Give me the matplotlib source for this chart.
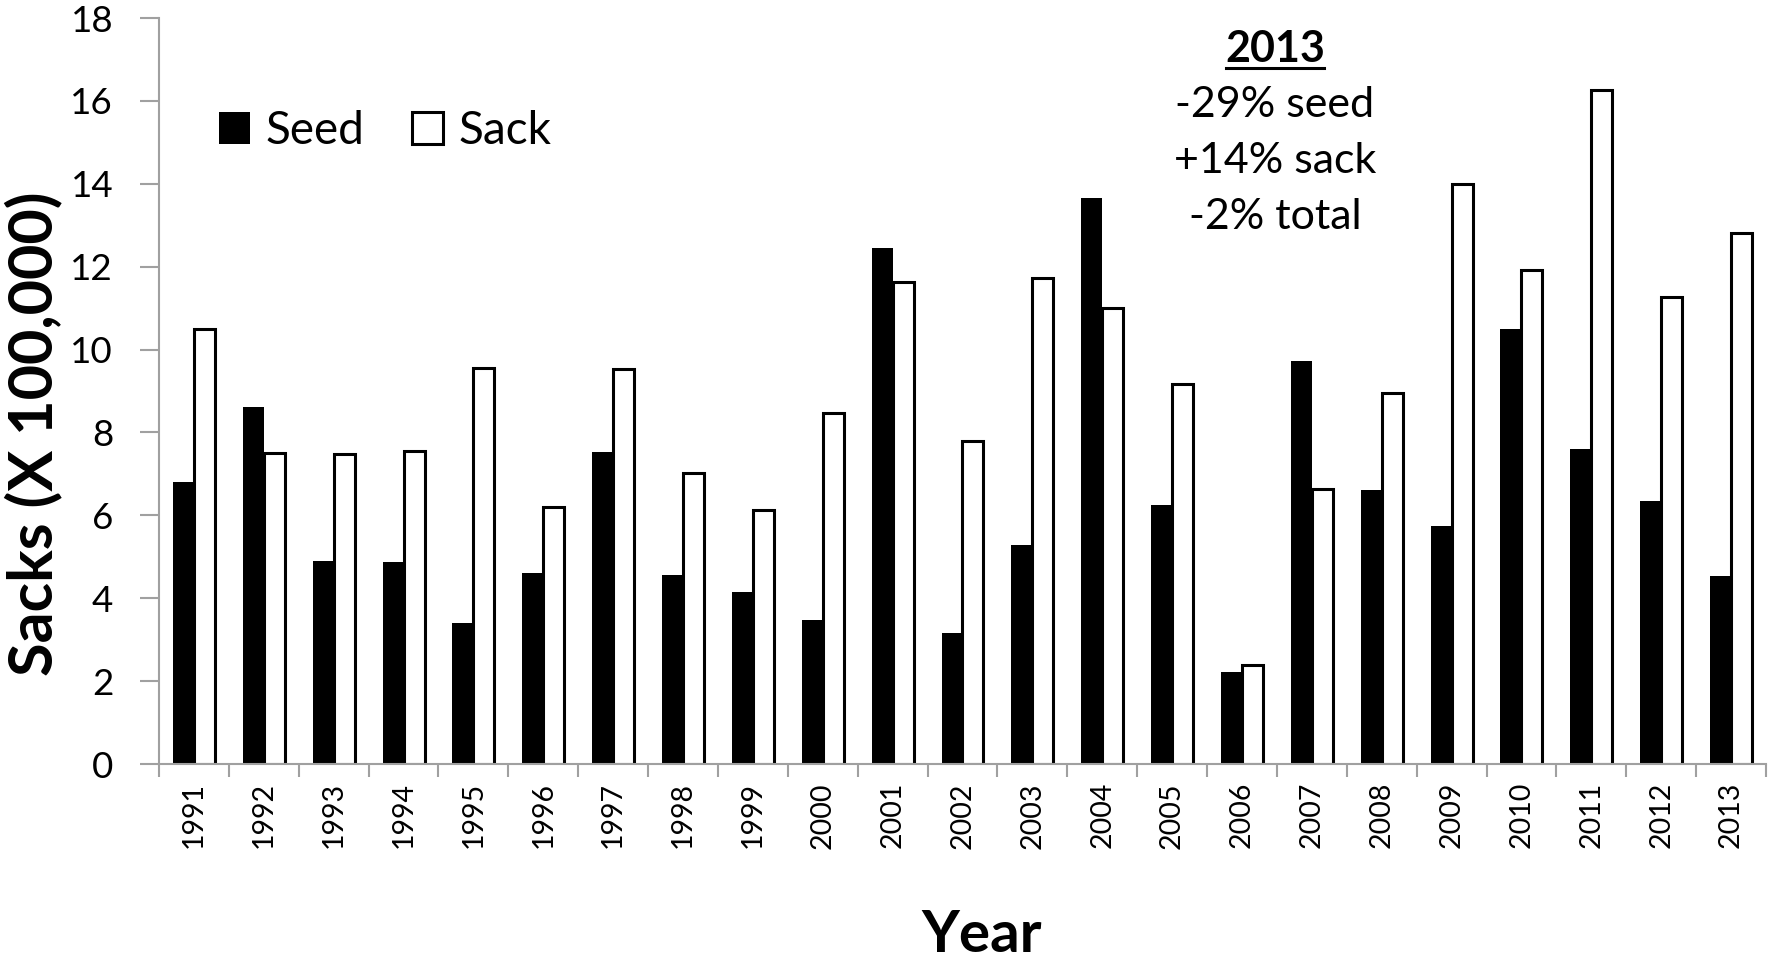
import numpy as np
import matplotlib
matplotlib.use("Agg")
import matplotlib.pyplot as plt
from matplotlib.lines import Line2D

plt.rcParams['font.family'] = ['Lato', 'DejaVu Sans']

# data (sacks x 100,000)
years = ['1991', '1992', '1993', '1994', '1995', '1996', '1997', '1998',
         '1999', '2000', '2001', '2002', '2003', '2004', '2005', '2006',
         '2007', '2008', '2009', '2010', '2011', '2012', '2013']
seed = [6.81, 8.61, 4.90, 4.87, 3.40, 4.62, 7.53, 4.55, 4.16, 3.47, 12.45, 3.17,
        5.29, 13.66, 6.24, 2.22, 9.73, 6.60, 5.74, 10.49, 7.60, 6.35, 4.54]
sack = [10.50, 7.50, 7.48, 7.56, 9.56, 6.19, 9.53, 7.02, 6.13, 8.47, 11.64, 7.80,
        11.72, 11.00, 9.16, 2.38, 6.63, 8.95, 13.99, 11.92, 16.26, 11.26, 12.81]
y_ticks = [0, 2, 4, 6, 8, 10, 12, 14, 16, 18]
note_lines = ['-29% seed', '+14% sack', '-2% total']

W, H = 1777, 960
fig = plt.figure(figsize=(W / 100, H / 100), dpi=100)
ax = fig.add_axes([159 / W, 1 - 764 / H, (1766 - 159) / W, (764 - 18) / H])

x = np.arange(len(years))
bw = 0.3
b_seed = ax.bar(x - bw / 2, seed, bw, color='black', edgecolor='black', linewidth=0, label='Seed', zorder=2)
b_sack = ax.bar(x + bw / 2, sack, bw, color='white', edgecolor='black', linewidth=2.2, label='Sack', zorder=2)

ax.set_xlim(-0.5, len(years) - 0.5)
ax.set_ylim(0, 18)
ax.set_yticks(y_ticks)
ax.tick_params(axis='y', labelsize=26.5, length=14, width=1.5, color='#a0a0a0', pad=19)

# tick marks between categories, labels at the centres
ax.set_xticks(np.arange(-0.5, len(years)), labels=[])
ax.set_xticks(x, labels=years, minor=True)
ax.tick_params(axis='x', which='major', length=9, width=1.5, color='#a0a0a0')
ax.tick_params(axis='x', which='minor', length=0, labelsize=20.5, labelrotation=90, pad=13)

for s in ['top', 'right']:
    ax.spines[s].set_visible(False)
for s in ['left', 'bottom']:
    ax.spines[s].set_color('#a0a0a0')
    ax.spines[s].set_linewidth(1.5)
    ax.spines[s].set_zorder(3)

leg = fig.legend(handles=[b_seed, b_sack], loc='center left', bbox_to_anchor=(219 / W, 1 - 131 / H),
                 ncol=2, frameon=False, fontsize=33, handlelength=0.68, handleheight=0.68,
                 handletextpad=0.33, columnspacing=1.05, borderpad=0, borderaxespad=0)

fig.text(33 / W, 1 - 434 / H, 'Sacks (X 100,000)', rotation=90, ha='center', va='center',
         fontsize=44, fontweight='bold')
fig.text(982 / W, 1 - 936 / H, 'Year', ha='center', va='center', fontsize=42, fontweight='bold')

# 2013 summary note
cx = 1275 / W
fig.text(cx, 1 - 62 / H, '2013', ha='center', va='baseline', fontsize=31, fontweight='bold')
fig.add_artist(Line2D([1226 / W, 1324 / W], [1 - 68 / H, 1 - 68 / H], color='black', linewidth=2.2))
for i, line in enumerate(note_lines):
    fig.text(cx, 1 - (117 + 56 * i) / H, line, ha='center', va='baseline', fontsize=31)

fig.savefig('out.png', dpi=100)
